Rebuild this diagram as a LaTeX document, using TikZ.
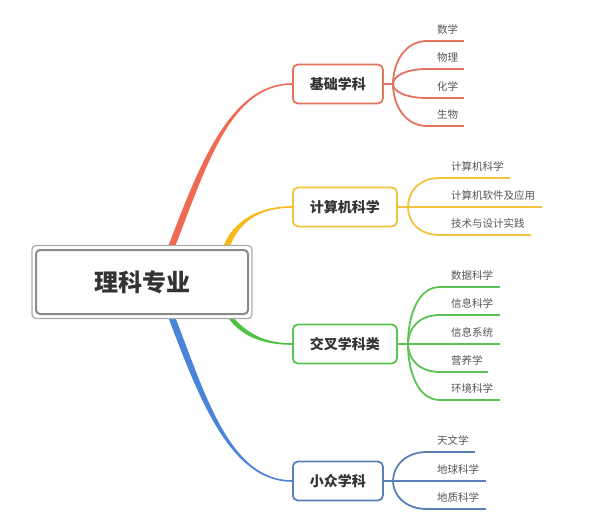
\documentclass[tikz,border=0pt]{standalone}
\usepackage{fontspec}
\newfontfamily\cjk{Noto Sans CJK SC}
\usetikzlibrary{calc,backgrounds}
\definecolor{rootline}{HTML}{8A8A8A}
\definecolor{rootouter}{HTML}{ABABAB}
\definecolor{textdark}{HTML}{333333}
\definecolor{textleaf}{HTML}{555555}
\definecolor{redmain}{HTML}{EF6A53}
\definecolor{redline}{HTML}{E2735C}
\definecolor{yelmain}{HTML}{F6B81A}
\definecolor{yelline}{HTML}{F1C23C}
\definecolor{grnmain}{HTML}{4DC046}
\definecolor{grnline}{HTML}{5AC353}
\definecolor{blumain}{HTML}{4A84D8}
\definecolor{bluline}{HTML}{5A80B8}
\tikzset{
  rootbox/.style={draw=rootline, line width=2pt, rounded corners=4pt, fill=white,
    minimum width=212pt, minimum height=64pt, inner sep=0pt,
    font=\cjk\bfseries\fontsize{24}{28}\selectfont, text=textdark},
  branchbox/.style={draw=#1, line width=1.8pt, rounded corners=5pt, fill=white,
    minimum height=39pt, inner xsep=17pt, inner ysep=0pt, anchor=west,
    font=\cjk\bfseries\fontsize{14}{16}\selectfont, text=textdark},
  leaftext/.style={anchor=base west, inner sep=0pt,
    font=\cjk\fontsize{10.5}{12}\selectfont, text=textleaf},
  leafline/.style={draw=#1, line width=1.8pt},
}
% fork curve: from fork #1 to leaf start #2
\newcommand{\forkcurve}[3]{%
  \draw[leafline=#3] (#1) .. controls ($(#1)!0.5!(#1 |- #2)$) and ($(#2)+(-22,0)$) .. (#2);}
\begin{document}
\begin{tikzpicture}[x=1pt,y=-1pt]
\useasboundingbox (0,0) rectangle (599,530);
% root
\node[rootbox] (root) at (142,282) {理科专业};
\draw[rootouter, line width=1.2pt, rounded corners=4pt]
  ([xshift=-3pt,yshift=3.5pt]root.north west) rectangle ([xshift=3pt,yshift=-3.5pt]root.south east);
% branch boxes
\node[branchbox=redline] (b1) at (292,84) {基础学科};
\node[branchbox=yelline] (b2) at (292,207) {计算机科学};
\node[branchbox=grnline] (b3) at (292,344) {交叉学科类};
\node[branchbox=bluline] (b4) at (292,481) {小众学科};
% start points on root
\coordinate (sR) at ([xshift=30pt,yshift=3.5pt]root.north);
\coordinate (sY) at ([xshift=85pt,yshift=3.5pt]root.north);
\coordinate (sG) at ([xshift=89pt,yshift=-3pt]root.south);
\coordinate (sB) at ([xshift=30pt,yshift=-3pt]root.south);
% forks
\coordinate (f1) at (393,84);
\coordinate (f2) at (408,207);
\coordinate (f3) at (408,344);
\coordinate (f4) at (393,481);
% leaf line coordinates
\coordinate (l11s) at (427,41);  \coordinate (l11e) at (464,41);
\coordinate (l12s) at (427,69);  \coordinate (l12e) at (464,69);
\coordinate (l13s) at (427,98);  \coordinate (l13e) at (464,98);
\coordinate (l14s) at (427,126); \coordinate (l14e) at (464,126);
\coordinate (l21s) at (440,178); \coordinate (l21e) at (510,178);
\coordinate (l22s) at (440,207); \coordinate (l22e) at (542,207);
\coordinate (l23s) at (440,235); \coordinate (l23e) at (531,235);
\coordinate (l31s) at (440,287); \coordinate (l31e) at (500,287);
\coordinate (l32s) at (440,315); \coordinate (l32e) at (500,315);
\coordinate (l33s) at (440,344); \coordinate (l33e) at (500,344);
\coordinate (l34s) at (440,372); \coordinate (l34e) at (488,372);
\coordinate (l35s) at (440,400); \coordinate (l35e) at (500,400);
\coordinate (l41s) at (427,452); \coordinate (l41e) at (475,452);
\coordinate (l42s) at (427,481); \coordinate (l42e) at (486,481);
\coordinate (l43s) at (427,509); \coordinate (l43e) at (486,509);
% leaf texts
\node[leaftext] (t11) at (437,33) {数学};
\node[leaftext] (t12) at (437,61) {物理};
\node[leaftext] (t13) at (437,90) {化学};
\node[leaftext] (t14) at (437,118) {生物};
\node[leaftext] (t21) at (451,170) {计算机科学};
\node[leaftext] (t22) at (451,199) {计算机软件及应用};
\node[leaftext] (t23) at (451,227) {技术与设计实践};
\node[leaftext] (t31) at (451,279) {数据科学};
\node[leaftext] (t32) at (451,307) {信息科学};
\node[leaftext] (t33) at (451,336) {信息系统};
\node[leaftext] (t34) at (451,364) {营养学};
\node[leaftext] (t35) at (451,392) {环境科学};
\node[leaftext] (t41) at (437,444) {天文学};
\node[leaftext] (t42) at (437,473) {地球科学};
\node[leaftext] (t43) at (437,501) {地质科学};
\begin{pgfonlayer}{background}
% main tapered connectors
\fill[redmain] ([xshift=-3.5pt]sR) .. controls (198.5,167) and (230,83.2) .. ([yshift=0.8pt]b1.west)
  -- ([yshift=-0.8pt]b1.west) .. controls (230,84.8) and (205.5,169) .. ([xshift=3.5pt]sR) -- cycle;
\fill[yelmain] ([xshift=-3.3pt]sY) .. controls (232,224) and (255,206.2) .. ([yshift=0.8pt]b2.west)
  -- ([yshift=-0.8pt]b2.west) .. controls (255,207.8) and (238,226) .. ([xshift=3.3pt]sY) -- cycle;
\fill[grnmain] ([xshift=-2.8pt]sG) .. controls (242.5,337.5) and (265,344.8) .. ([yshift=-0.8pt]b3.west)
  -- ([yshift=0.8pt]b3.west) .. controls (265,343.2) and (247.5,333.5) .. ([xshift=2.8pt]sG) -- cycle;
\fill[blumain] ([xshift=-3.5pt]sB) .. controls (198.5,397) and (230,481.8) .. ([yshift=-0.8pt]b4.west)
  -- ([yshift=0.8pt]b4.west) .. controls (230,480.2) and (205.5,395) .. ([xshift=3.5pt]sB) -- cycle;
% sub connectors
\draw[leafline=redline] (b1.east) -- (f1);
\forkcurve{f1}{l11s}{redline} \draw[leafline=redline] (l11s) -- (l11e);
\forkcurve{f1}{l12s}{redline} \draw[leafline=redline] (l12s) -- (l12e);
\forkcurve{f1}{l13s}{redline} \draw[leafline=redline] (l13s) -- (l13e);
\forkcurve{f1}{l14s}{redline} \draw[leafline=redline] (l14s) -- (l14e);
\draw[leafline=yelline] (b2.east) -- (f2);
\forkcurve{f2}{l21s}{yelline} \draw[leafline=yelline] (l21s) -- (l21e);
\draw[leafline=yelline] (f2) -- (l22e);
\forkcurve{f2}{l23s}{yelline} \draw[leafline=yelline] (l23s) -- (l23e);
\draw[leafline=grnline] (b3.east) -- (f3);
\forkcurve{f3}{l31s}{grnline} \draw[leafline=grnline] (l31s) -- (l31e);
\forkcurve{f3}{l32s}{grnline} \draw[leafline=grnline] (l32s) -- (l32e);
\draw[leafline=grnline] (f3) -- (l33e);
\forkcurve{f3}{l34s}{grnline} \draw[leafline=grnline] (l34s) -- (l34e);
\forkcurve{f3}{l35s}{grnline} \draw[leafline=grnline] (l35s) -- (l35e);
\draw[leafline=bluline] (b4.east) -- (f4);
\forkcurve{f4}{l41s}{bluline} \draw[leafline=bluline] (l41s) -- (l41e);
\draw[leafline=bluline] (f4) -- (l42e);
\forkcurve{f4}{l43s}{bluline} \draw[leafline=bluline] (l43s) -- (l43e);
\end{pgfonlayer}
\end{tikzpicture}
\end{document}
